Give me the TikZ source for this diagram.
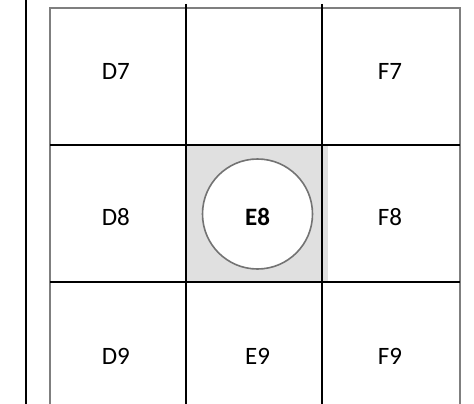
\documentclass[tikz,border=0pt]{standalone}
\usepackage{fontspec}
\setmainfont{Carlito}
\definecolor{bordergrey}{HTML}{7F7F7F}
\definecolor{circgrey}{HTML}{737373}
\definecolor{cellfill}{HTML}{E0E0E0}
\begin{document}
\begin{tikzpicture}[x=1pt,y=-1pt,
  gridline/.style={black,line width=2pt},
  borderline/.style={bordergrey,line width=2pt},
  celltext/.style={font=\fontsize{25}{29}\selectfont,inner sep=0pt},
]
\useasboundingbox (0,0) rectangle (474,404);
% shaded cell
\fill[cellfill] (186,144.5) rectangle (328,282);
% outer grey border (no bottom edge)
\draw[borderline] (50,404) -- (50,8) -- (460,8) -- (460,404);
% left black rule
\draw[black,line width=2.4pt] (26,0) -- (26,404);
% grid lines
\coordinate (v1t) at (186,4); \coordinate (v1b) at (186,404);
\coordinate (v2t) at (322,4); \coordinate (v2b) at (322,404);
\coordinate (h1l) at (50,144.5); \coordinate (h1r) at (460,144.5);
\coordinate (h2l) at (50,282); \coordinate (h2r) at (460,282);
\draw[gridline] (v1t) -- (v1b);
\draw[gridline] (v2t) -- (v2b);
\draw[gridline] (h1l) -- (h1r);
\draw[gridline] (h2l) -- (h2r);
% circle
\node[circle,draw=circgrey,fill=white,line width=1.6pt,minimum size=110pt,inner sep=0pt] (circ) at (257.5,214) {};
% labels
\node[celltext] (d7) at (115.8,71.3) {D7};
\node[celltext] (f7) at (390,71.3) {F7};
\node[celltext] (d8) at (115.8,217.3) {D8};
\node[celltext,font=\fontsize{25}{29}\selectfont\bfseries] (e8) at (257.5,217) {E8};
\node[celltext] (f8) at (390,217.3) {F8};
\node[celltext] (d9) at (115.8,356) {D9};
\node[celltext] (e9) at (257.5,356) {E9};
\node[celltext] (f9) at (390,356) {F9};
\end{tikzpicture}
\end{document}
